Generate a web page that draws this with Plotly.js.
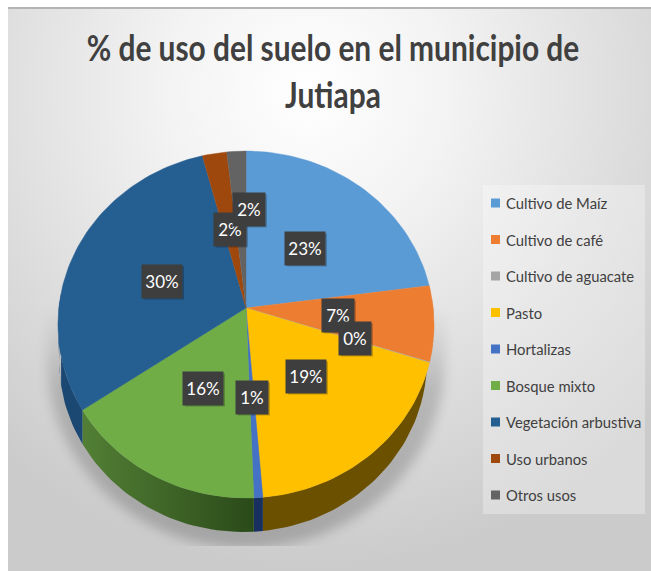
<!DOCTYPE html>
<html><head><meta charset="utf-8">
<script src="https://cdn.plot.ly/plotly-3.0.1.min.js"></script>
<style>
html,body{margin:0;padding:0;background:#fff;width:651px;height:571px;overflow:hidden}
#frame{position:absolute;left:8px;top:7px;width:643px;height:564px;border-top:2px solid #b4b4b4;box-sizing:border-box;
background:radial-gradient(ellipse 470px 480px at 300px 80px,#ffffff 0%,#f3f3f3 30%,#dcdcdc 70%,#cbcbcb 100%)}
#clip{position:absolute;left:0;top:300px;width:651px;height:246px;overflow:hidden}
#shade{position:absolute;left:47px;top:6px;width:398px;height:242px;background:linear-gradient(rgba(0,0,0,0) 0%,rgba(0,0,0,.17) 35%,rgba(0,0,0,.2) 100%);border-radius:4% 4% 50% 50%/4% 4% 78% 78%;filter:blur(6px)}
#chart{position:absolute;left:0;top:0;width:651px;height:571px}
</style></head><body>
<div id="frame"></div><div id="clip"><div id="shade"></div></div><div id="chart"></div>
<script>
const categories=["Cultivo de Maíz","Cultivo de café","Cultivo de aguacate","Pasto","Hortalizas","Bosque mixto","Vegetación arbustiva","Uso urbanos","Otros usos"];
const values=[22.9,7.0,0.1,18.7,0.7,16.1,30.4,2.3,1.8];
const colors=["#5B9BD5","#ED7D31","#A5A5A5","#FFC000","#4472C4","#70AD47","#255E91","#9E480E","#636363"];
const wallColors=["#2f5f8a","#8a4a1c","#666666","#6b5000","#17305f","#2f4f1c","#1a4873","#5e2a08","#3c3c3c"];
const labelX=[305,338,355,306,252,203,162,230,249];
const labelY=[248,315,338,376,397,388,281,229,209];
const labelW=[40,32,32,40,32,40,40,32,32];
const W=651,H=571;
// perspective view of the pie disc
const view={cx:246,cy:308,a:187.2,b:171.9,k:0.0951}, low={cx:243,cy:360,rx:184,ry:172};
const total=values.reduce((a,b)=>a+b,0);
function rim(t){const u=Math.sin(t),v=Math.cos(t),d=1+view.k*v;return [view.cx+view.a*u/d,view.cy-view.b*v/d];}
function range(i){const s=values.slice(0,i).reduce((a,b)=>a+b,0)/total*2*Math.PI;return [s,s+values[i]/total*2*Math.PI];}
function face(i){
  const [s,e]=range(i),n=Math.max(2,Math.ceil((e-s)/0.03));const x=[view.cx],y=[view.cy];
  for(let k=0;k<=n;k++){const p=rim(s+(e-s)*k/n);x.push(p[0]);y.push(p[1]);}
  x.push(view.cx);y.push(view.cy);return {x,y};
}
function wall(i){
  const [s,e]=range(i),n=Math.max(2,Math.ceil((e-s)/0.03));
  const tx=[],ty=[],bx=[],by=[];
  for(let k=0;k<=n;k++){
    const t=s+(e-s)*k/n; if(Math.cos(t)>0.1) continue;
    const p=rim(t),d=(p[0]-low.cx)/low.rx;
    const yb=Math.abs(d)<1?low.cy+low.ry*Math.sqrt(1-d*d):p[1];
    tx.push(p[0]);ty.push(p[1]);bx.unshift(p[0]);by.unshift(Math.max(p[1],yb));
  }
  return {x:tx.concat(bx),y:ty.concat(by)};
}
const traces=[];
categories.forEach((c,i)=>{
  const w=wall(i); if(w.x.length<4) return;
  const tr={type:'scatter',mode:'lines',name:c+' (lateral)',x:w.x,y:w.y,fill:'toself',fillcolor:wallColors[i],line:{width:0,color:wallColors[i]},showlegend:false,hoverinfo:'skip'};
  if(c==="Bosque mixto") tr.fillgradient={type:'horizontal',colorscale:[[0,'#527f35'],[0.5,'#3f6527'],[1,'#2a4a19']]};
  traces.push(tr);
});
categories.forEach((c,i)=>{
  const f=face(i);
  traces.push({type:'scatter',mode:'lines',name:c,x:f.x,y:f.y,fill:'toself',fillcolor:colors[i],line:{width:0.4,color:colors[i]},showlegend:false,hoverinfo:'name'});
});
const font="Lato, sans-serif";
const ann=[],shapes=[];
shapes.push({type:'rect',xref:'x',yref:'y',x0:483,x1:645,y0:185,y1:514,fillcolor:'rgba(255,255,255,0.3)',line:{width:0},layer:'below'});
categories.forEach((c,i)=>{
  const y=203+36.5*i;
  shapes.push({type:'rect',xref:'x',yref:'y',x0:491,x1:500,y0:y-4.5,y1:y+4.5,fillcolor:colors[i],line:{width:0}});
  ann.push({xref:'x',yref:'y',x:504,y:y,xanchor:'left',yanchor:'middle',text:c,showarrow:false,font:{family:font,size:14.8,color:'#404040'}});
  shapes.push({type:'rect',xref:'x',yref:'y',x0:labelX[i]-labelW[i]/2+2,x1:labelX[i]+labelW[i]/2+2,y0:labelY[i]-14.5,y1:labelY[i]+18.5,fillcolor:'rgba(0,0,0,0.22)',line:{width:0},layer:'above'});
  const pct=Math.round(values[i]/total*100)+'%';
  ann.push({xref:'x',yref:'y',x:labelX[i],y:labelY[i],xanchor:'center',yanchor:'middle',text:pct,showarrow:false,
    width:labelW[i],height:33,bgcolor:'#3e3e3e',font:{family:font,size:17,color:'#ffffff'},borderpad:0});
});
const titleCx=333;
const layout={width:W,height:H,margin:{l:0,r:0,t:0,b:0},paper_bgcolor:'rgba(0,0,0,0)',plot_bgcolor:'rgba(0,0,0,0)',showlegend:false,
  title:{text:"% de uso del suelo en el municipio de<br>Jutiapa",font:{family:font,size:36,color:'#404040',weight:700},x:titleCx/W,xanchor:'center',y:0.8935,yanchor:'middle'},
  xaxis:{visible:false,range:[0,W],domain:[0,1],fixedrange:true},
  yaxis:{visible:false,range:[H,0],domain:[0,1],fixedrange:true},
  annotations:ann,shapes:shapes};
Plotly.newPlot('chart',traces,layout,{displayModeBar:false,responsive:false}).then(()=>{
  const t=document.querySelector('.gtitle');
  if(t) t.setAttribute('transform',`translate(${titleCx} 0) scale(0.83 1) translate(${-titleCx} 0)`);
});
</script></body></html>
